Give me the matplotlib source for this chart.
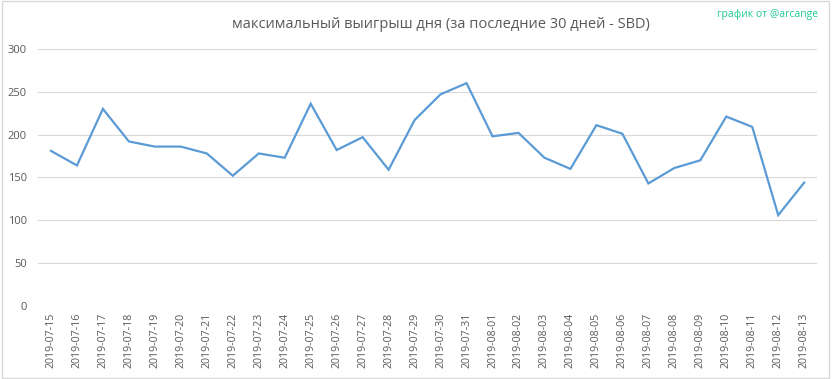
import matplotlib.pyplot as plt
from matplotlib.patches import Rectangle

dates = [
    "2019-07-15", "2019-07-16", "2019-07-17", "2019-07-18", "2019-07-19",
    "2019-07-20", "2019-07-21", "2019-07-22", "2019-07-23", "2019-07-24",
    "2019-07-25", "2019-07-26", "2019-07-27", "2019-07-28", "2019-07-29",
    "2019-07-30", "2019-07-31", "2019-08-01", "2019-08-02", "2019-08-03",
    "2019-08-04", "2019-08-05", "2019-08-06", "2019-08-07", "2019-08-08",
    "2019-08-09", "2019-08-10", "2019-08-11", "2019-08-12", "2019-08-13",
]
max_win = [
    181, 164, 230, 192, 186, 186, 178, 152, 178, 173,
    236, 182, 197, 159, 217, 247, 260, 198, 202, 173,
    160, 211, 201, 143, 161, 170, 221, 209, 106, 144,
]
y_ticks = [0, 50, 100, 150, 200, 250, 300]

plt.rcParams['font.family'] = ['Open Sans', 'DejaVu Sans']

fig = plt.figure(figsize=(8.33, 3.79), dpi=100)
ax = fig.add_axes([0.0456, 0.1926, 0.9354, 0.6784])

x = list(range(len(dates)))
ax.plot(x, max_win, color="#5b9bd5", linewidth=1.6, solid_joinstyle="miter")

ax.set_xlim(-0.5, len(dates) - 0.5)
ax.set_ylim(0, 300)
ax.set_yticks(y_ticks)
ax.set_xticks(x)
ax.set_xticklabels(dates, rotation=90, fontsize=7.7, color="#595959")
ax.tick_params(axis="y", labelsize=8, colors="#595959", length=0, pad=8)
ax.tick_params(axis="x", length=0, pad=5)
ax.grid(axis="y", color="#d9d9d9", linewidth=0.8)
ax.set_axisbelow(True)
for s in ax.spines.values():
    s.set_visible(False)

fig.text(0.529, 0.935, "максимальный выигрыш дня (за последние 30 дней - SBD)",
         ha="center", va="center", fontsize=10.5, color="#595959")
fig.text(0.982, 0.962, "график от @arcange", ha="right", va="center",
         fontsize=7.5, color="#20c997")

# thin border round the chart area
fig.patches.append(Rectangle((0.002, 0.003), 0.993, 0.994, transform=fig.transFigure,
                             fill=False, edgecolor="#d9d9d9", linewidth=1))

fig.savefig("out.png", dpi=100)
